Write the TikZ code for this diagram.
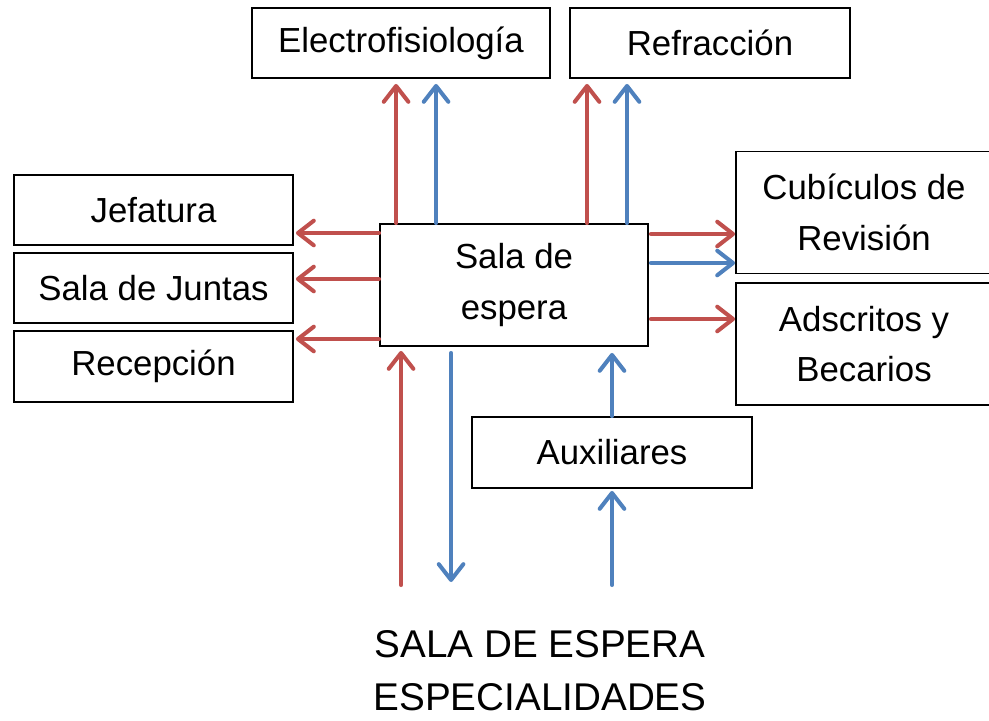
\documentclass[tikz,border=0pt]{standalone}
\usepackage{fontspec}
\setmainfont{Liberation Sans}
\usetikzlibrary{arrows.meta}

\definecolor{redc}{RGB}{192,80,77}
\definecolor{bluec}{RGB}{79,129,189}

\tikzset{
  box/.style={draw, line width=1.1pt, align=center, inner sep=0pt,
    font=\fontsize{19.8}{28.9}\selectfont},
  flow/.style={line width=2.3pt, line cap=round,
    -{Straight Barb[length=9pt,width=14pt,line cap=round,line join=round]}},
  redflow/.style={flow, draw=redc},
  blueflow/.style={flow, draw=bluec}
}

\begin{document}
\begin{tikzpicture}[x=0.02cm, y=-0.02cm]

  \useasboundingbox (0,0) rectangle (989,720);

  \node[box, minimum width=5.96cm, minimum height=1.4cm] (elec) at (401,43) {Electrofisiología};
  \node[box, minimum width=5.6cm, minimum height=1.4cm] (refr) at (710,43) {Refracción};

  \node[box, minimum width=5.58cm, minimum height=1.4cm] (jef) at (153.5,210) {Jefatura};
  \node[box, minimum width=5.58cm, minimum height=1.4cm] (juntas) at (153.5,288) {Sala de Juntas};
  \node[box, minimum width=5.58cm, minimum height=1.42cm] (recep) at (153.5,366.5) {Recepción};

  \node[box, minimum width=5.36cm, minimum height=2.44cm] (sala) at (514,285) {Sala de\\espera};

  \node[box, minimum width=5.12cm, minimum height=2.44cm] (cubic) at (864,212.5) {Cubículos de\\Revisión};
  \node[box, minimum width=5.12cm, minimum height=2.44cm] (adsc) at (864,344) {Adscritos y\\Becarios};

  \node[box, minimum width=5.6cm, minimum height=1.42cm] (aux) at (612,452.5) {Auxiliares};

  \coordinate (base) at (540,585);

  \node[align=center, font=\fontsize{22}{30}\selectfont] (title) at (540,671) {SALA DE ESPERA\\ESPECIALIDADES};

  % hacia arriba
  \draw[redflow, shorten >=0.1cm] ([xshift=0.34cm]sala.north west) -- ([xshift=0.34cm]sala.north west |- elec.south);
  \draw[blueflow, shorten >=0.1cm] ([xshift=1.14cm]sala.north west) -- ([xshift=1.14cm]sala.north west |- elec.south);
  \draw[redflow, shorten >=0.1cm] ([xshift=4.16cm]sala.north west) -- ([xshift=4.16cm]sala.north west |- refr.south);
  \draw[blueflow, shorten >=0.1cm] ([xshift=4.96cm]sala.north west) -- ([xshift=4.96cm]sala.north west |- refr.south);

  % hacia la izquierda
  \draw[redflow, shorten >=0.04cm] ([yshift=1.04cm]sala.west) -- ([yshift=1.04cm]sala.west -| jef.east);
  \draw[redflow, shorten >=0.04cm] ([yshift=0.12cm]sala.west) -- ([yshift=0.12cm]sala.west -| juntas.east);
  \draw[redflow, shorten >=0.04cm] ([yshift=-1.08cm]sala.west) -- ([yshift=-1.08cm]sala.west -| recep.east);

  % hacia la derecha
  \draw[redflow, shorten <=0.04cm] ([yshift=1.02cm]sala.east) -- ([yshift=1.02cm]sala.east -| cubic.west);
  \draw[blueflow, shorten <=0.04cm] ([yshift=0.44cm]sala.east) -- ([yshift=0.44cm]sala.east -| cubic.west);
  \draw[redflow, shorten <=0.04cm] ([yshift=-0.68cm]sala.east) -- ([yshift=-0.68cm]sala.east -| adsc.west);

  % desde abajo
  \draw[redflow, shorten >=0.08cm] ([xshift=0.44cm]sala.south west |- base) -- ([xshift=0.44cm]sala.south west);
  \draw[blueflow, shorten <=0.12cm, shorten >=0.06cm] ([xshift=1.44cm]sala.south west) -- ([xshift=1.44cm]sala.south west |- base);
  \draw[blueflow, shorten >=0.12cm] (aux.north) -- (aux.north |- sala.south);
  \draw[blueflow, shorten >=0.04cm] (aux.south |- base) -- (aux.south);

\end{tikzpicture}
\end{document}
